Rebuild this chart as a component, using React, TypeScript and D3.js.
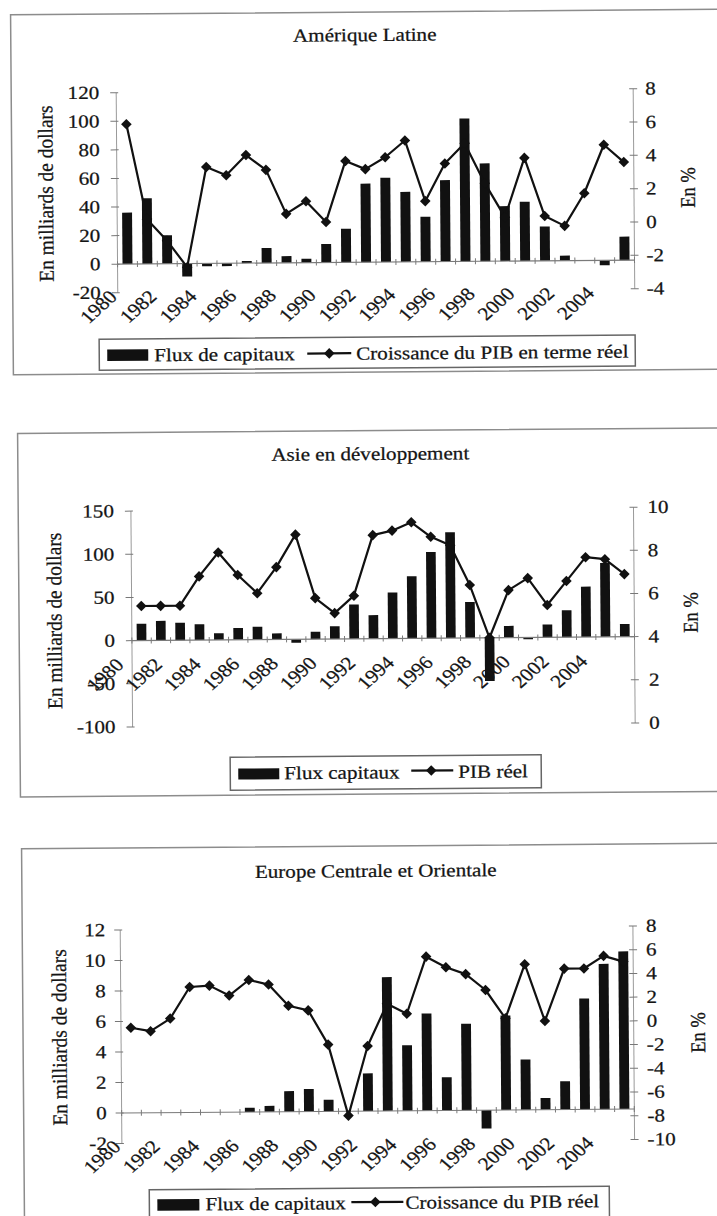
import React from "react";
import * as d3 from "d3";

const YEARS = ["1980","1981","1982","1983","1984","1985","1986","1987","1988","1989","1990","1991","1992","1993","1994","1995","1996","1997","1998","1999","2000","2001","2002","2003","2004","2005"];
const LABELED_YEARS = ["1980","1982","1984","1986","1988","1990","1992","1994","1996","1998","2000","2002","2004"];

// Amérique Latine
const AL_FLUX = [36, 46, 20, -9, -2, -2, 1.5, 10.5, 4.7, 2.8, 13, 23.5, 55, 59, 49, 31.5, 57, 100, 68.5, 38.5, 41.5, 24, 3.5, 0, -3.5, 16.5];
const AL_PIB = [6.1, 0.4, -0.9, -2.5, 3.5, 3.0, 4.2, 3.3, 0.65, 1.4, 0.15, 3.8, 3.3, 4.0, 5.0, 1.35, 3.6, 4.8, 2.4, 0.35, 3.9, 0.4, -0.2, 1.75, 4.65, 3.6];
const AL_LEFT_TICKS = [-20, 0, 20, 40, 60, 80, 100, 120];
const AL_RIGHT_TICKS = [-4, -2, 0, 2, 4, 6, 8];

// Asie en développement
const AS_FLUX = [19.5, 22.6, 20.3, 18.3, 7.8, 13.6, 14.8, 7, -3.9, 8.6, 14.8, 39.7, 27.3, 53.4, 72, 100, 122.7, 41.7, -50, 13.6, -2, 14.8, 31.2, 58.4, 85.7, 14.8];
const AS_PIB = [5.6, 5.6, 5.6, 6.95, 8.05, 7.0, 6.15, 7.35, 8.85, 5.9, 5.2, 6.0, 8.8, 9.0, 9.38, 8.7, 8.3, 6.45, 4.0, 6.2, 6.75, 5.5, 6.6, 7.7, 7.6, 6.9];
const AS_LEFT_TICKS = [-100, -50, 0, 50, 100, 150];
const AS_RIGHT_TICKS = [0, 2, 4, 6, 8, 10];

// Europe Centrale et Orientale
const EU_FLUX = [0, 0, 0, 0, 0, 0, 0.28, 0.39, 1.35, 1.48, 0.76, 0, 2.47, 8.77, 4.3, 6.37, 2.18, 5.67, -1.2, 6.2, 3.3, 0.76, 1.85, 7.27, 9.53, 10.34];
const EU_PIB = [-0.25, -0.55, 0.5, 3.15, 3.25, 2.4, 3.7, 3.3, 1.5, 1.1, -1.8, -7.8, -1.95, 1.6, 0.75, 5.55, 4.65, 4.05, 2.7, 0.3, 4.85, 0.05, 4.45, 4.45, 5.5, 5.0];
const EU_LEFT_TICKS = [-2, 0, 2, 4, 6, 8, 10, 12];
const EU_RIGHT_TICKS = [-10, -8, -6, -4, -2, 0, 2, 4, 6, 8];

const TITLES = ["Amérique Latine", "Asie en développement", "Europe Centrale et Orientale"];
const LEGEND_BAR = ["Flux de capitaux", "Flux capitaux", "Flux de capitaux"];
const LEGEND_LINE = ["Croissance du PIB en terme réel", "PIB réel", "Croissance du PIB réel"];
const Y_LEFT_LABEL = "En milliards de dollars";
const Y_RIGHT_LABEL = "En %";

const FONT = "'Liberation Serif', 'Times New Roman', 'DejaVu Serif', serif";
const FS = 18.5;
const SX = 1.14;
const INK = "#141414";

function T({ x, y, anchor = "start", rot = 0, along = 1, children }: any) {
  const tr = `translate(${x},${y}) scale(${SX},1)${rot ? ` rotate(${rot})` : ""}${along !== 1 ? ` scale(${along},1)` : ""}`;
  return (
    <text
      transform={tr}
      textAnchor={anchor}
      style={{ fontFamily: FONT, fontSize: FS }}
      fill={INK}
      stroke={INK}
      strokeWidth={0.25}
    >
      {children}
    </text>
  );
}

function Chart({ cfg }: any) {
  const { x0, x1, yTop, yBot } = cfg;
  const xb = d3.scaleBand<string>().domain(YEARS).range([x0, x1]).paddingInner(0).paddingOuter(0);
  const bw = xb.bandwidth();
  const cxOf = (yr: string) => (xb(yr) as number) + bw / 2;
  const yl = d3.scaleLinear().domain(d3.extent(cfg.leftTicks) as [number, number]).range([yBot, yTop]);
  const yr = d3.scaleLinear().domain(d3.extent(cfg.rightTicks) as [number, number]).range([yBot, yTop]);
  const y0 = yl(0);
  const line = d3.line<number>().x((_, i) => cxOf(YEARS[i])).y((d) => yr(d));
  const diamond = d3.symbol(d3.symbolSquare, 56)() as string;
  const lg = cfg.legend;
  const boundaries = d3.range(YEARS.length + 1).map((i) => x0 + i * bw);

  return (
    <g transform={`rotate(-0.45 ${cfg.rot[0]} ${cfg.rot[1]})`}>
      <rect x={cfg.frame[0]} y={cfg.frame[1]} width={cfg.frame[2]} height={cfg.frame[3]} fill="none" stroke="#8c8c8c" strokeWidth={1.5} />
      <T x={cfg.title[0]} y={cfg.title[1]} anchor="middle">{cfg.titleText}</T>

      {/* axes */}
      <line x1={x0} x2={x0} y1={yTop} y2={yBot} stroke="#9a9a9a" strokeWidth={1} />
      <line x1={x1} x2={x1} y1={yTop} y2={yBot} stroke="#9a9a9a" strokeWidth={1} />
      {cfg.leftTicks.map((t: number) => (
        <g key={"l" + t}>
          <line x1={x0 - 6} x2={x0 + 2} y1={yl(t)} y2={yl(t)} stroke="#777" strokeWidth={1} />
          <T x={x0 - cfg.leftGap} y={yl(t) + 6} anchor="end">{String(t)}</T>
        </g>
      ))}
      {cfg.rightTicks.map((t: number) => (
        <g key={"r" + t}>
          <line x1={x1 - 4} x2={x1 + 4} y1={yr(t)} y2={yr(t)} stroke="#777" strokeWidth={1} />
          <T x={x1 + cfg.rightGap} y={yr(t) + 6} anchor="start">{String(t)}</T>
        </g>
      ))}

      {/* bars */}
      {cfg.flux.map((v: number, i: number) => (
        <rect
          key={"b" + i}
          x={cxOf(YEARS[i]) - bw * 0.25}
          width={bw * 0.5}
          y={Math.min(yl(v), y0)}
          height={Math.abs(yl(v) - y0)}
          fill="#111"
        />
      ))}

      {/* category axis at zero */}
      <line x1={x0} x2={x1} y1={y0} y2={y0} stroke="#7a7a7a" strokeWidth={1.1} />
      {boundaries.map((bx: number, i: number) => (
        <line key={"t" + i} x1={bx} x2={bx} y1={y0 - 3} y2={y0 + 3} stroke="#7a7a7a" strokeWidth={1} />
      ))}

      {/* line */}
      <path d={line(cfg.pib) as string} fill="none" stroke="#111" strokeWidth={2.2} strokeLinejoin="round" />
      {cfg.pib.map((v: number, i: number) => (
        <path key={"m" + i} d={diamond} transform={`translate(${cxOf(YEARS[i])},${yr(v)}) rotate(45)`} fill="#111" />
      ))}

      {/* x labels */}
      {LABELED_YEARS.map((yrs) => (
        <T key={"x" + yrs} x={cxOf(yrs) + cfg.xLab[0]} y={cfg.xLab[1]} anchor="end" rot={-45}>{yrs}</T>
      ))}

      {/* axis titles */}
      <T x={cfg.yLab[0]} y={cfg.yLab[1]} anchor="middle" rot={-90} along={1.05}>{Y_LEFT_LABEL}</T>
      <T x={cfg.rLab[0]} y={cfg.rLab[1]} anchor="middle" rot={-90}>{Y_RIGHT_LABEL}</T>

      {/* legend */}
      <rect x={lg.box[0]} y={lg.box[1]} width={lg.box[2]} height={lg.box[3]} fill="#fff" stroke="#666" strokeWidth={1.5} />
      <rect x={lg.sw[0]} y={lg.sw[1]} width={lg.sw[2]} height={lg.sw[3]} fill="#111" />
      <T x={lg.t1x} y={lg.base} anchor="start">{cfg.legBar}</T>
      <line x1={lg.ls[0]} x2={lg.ls[1]} y1={lg.lsY} y2={lg.lsY} stroke="#111" strokeWidth={2.2} />
      <path d={diamond} transform={`translate(${lg.dia},${lg.lsY}) rotate(45)`} fill="#111" />
      <T x={lg.t2x} y={lg.base} anchor="start">{cfg.legLine}</T>
    </g>
  );
}

export default function App() {
  const charts = [
    {
      titleText: TITLES[0], legBar: LEGEND_BAR[0], legLine: LEGEND_LINE[0],
      flux: AL_FLUX, pib: AL_PIB, leftTicks: AL_LEFT_TICKS, rightTicks: AL_RIGHT_TICKS,
      rot: [375, 195], frame: [12, 12, 740, 360], title: [366, 41],
      x0: 117, x1: 634, yTop: 90.7, yBot: 290.7, leftGap: 17, rightGap: 12,
      yLab: [53, 191], rLab: [695, 190], xLab: [-9.5, 296],
      legend: { box: [98, 337, 536, 31], sw: [106, 347.5, 41, 11.5], t1x: 153, base: 359.5, ls: [306, 350], lsY: 353, dia: 328, t2x: 355 },
    },
    {
      titleText: TITLES[1], legBar: LEGEND_BAR[1], legLine: LEGEND_LINE[1],
      flux: AS_FLUX, pib: AS_PIB, leftTicks: AS_LEFT_TICKS, rightTicks: AS_RIGHT_TICKS,
      rot: [375, 612], frame: [19, 430.6, 740, 363.5], title: [371.5, 460],
      x0: 131.7, x1: 634.3, yTop: 509.2, yBot: 725, leftGap: 17, rightGap: 14,
      yLab: [61.5, 618.3], rLab: [697.7, 615], xLab: [-17, 664],
      legend: { box: [229, 756, 311, 33], sw: [237, 767.5, 41, 11], t1x: 283, base: 778.5, ls: [410, 452], lsY: 771, dia: 430, t2x: 457 },
    },
    {
      titleText: TITLES[2], legBar: LEGEND_BAR[2], legLine: LEGEND_LINE[2],
      flux: EU_FLUX, pib: EU_PIB, leftTicks: EU_LEFT_TICKS, rightTicks: EU_RIGHT_TICKS,
      rot: [375, 1030], frame: [23, 846, 740, 420], title: [377, 877],
      x0: 121, x1: 633.7, yTop: 928, yBot: 1141.5, leftGap: 15, rightGap: 13,
      yLab: [66.5, 1035], rLab: [705, 1035], xLab: [-10, 1146],
      legend: { box: [148, 1188, 460, 60], sw: [156, 1197.5, 42, 11.5], t1x: 204, base: 1209, ls: [350, 402], lsY: 1202, dia: 374, t2x: 404 },
    },
  ];
  return (
    <svg width={717} height={1216} style={{ position: "absolute", left: 0, top: 0, background: "#fff" }}>
      <rect x={0} y={0} width={717} height={1216} fill="#fff" />
      {charts.map((c, i) => (
        <Chart key={i} cfg={c} />
      ))}
    </svg>
  );
}
